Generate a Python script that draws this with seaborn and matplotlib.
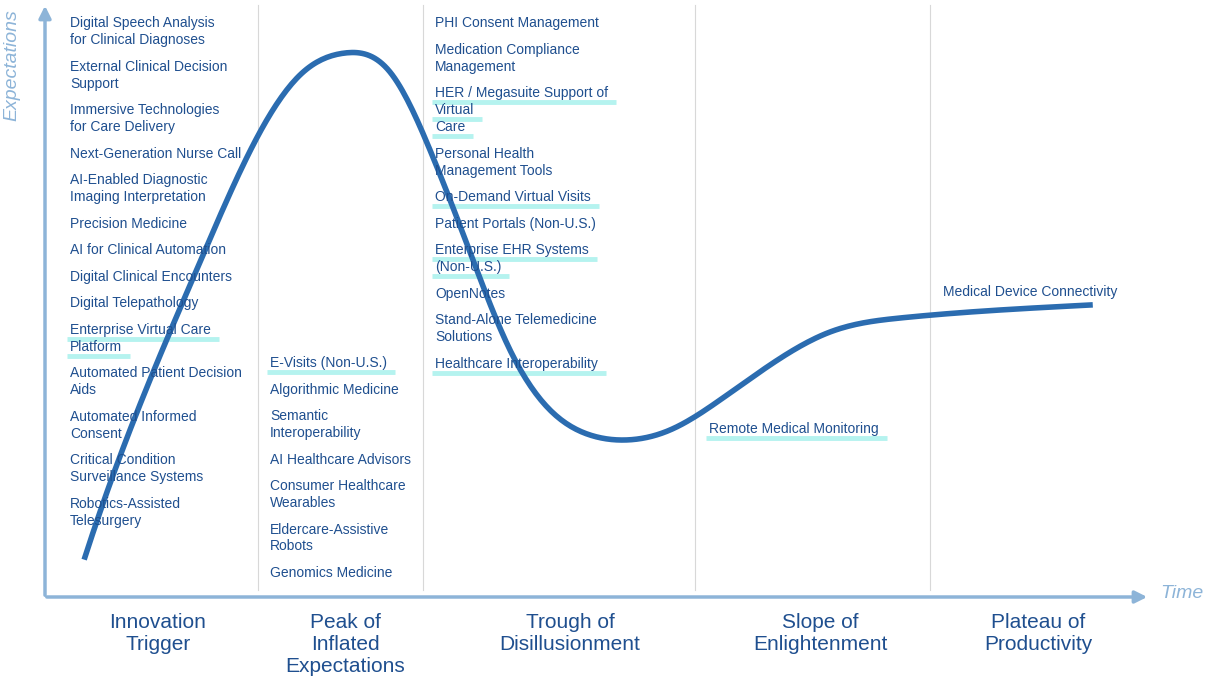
import matplotlib
matplotlib.use("Agg")
import matplotlib.pyplot as plt
import seaborn as sns
import pandas as pd
from scipy.interpolate import make_interp_spline
import numpy as np

# curve samples (pixel space)
curve_x = [85, 130, 200, 260, 300, 345, 390, 430, 470, 510, 550, 590, 625, 670, 720, 770, 830, 900, 1000, 1090]
curve_y = [557, 430, 262, 132, 75, 53, 72, 150, 252, 350, 410, 435, 440, 430, 400, 365, 332, 318, 310, 305]

col1 = [["Digital Speech Analysis", "for Clinical Diagnoses"], ["External Clinical Decision", "Support"],
        ["Immersive Technologies", "for Care Delivery"], ["Next-Generation Nurse Call"],
        ["AI-Enabled Diagnostic", "Imaging Interpretation"], ["Precision Medicine"], ["AI for Clinical Automation"],
        ["Digital Clinical Encounters"], ["Digital Telepathology"], ["Enterprise Virtual Care", "Platform"],
        ["Automated Patient Decision", "Aids"], ["Automated Informed", "Consent"],
        ["Critical Condition", "Surveillance Systems"], ["Robotics-Assisted", "Telesurgery"]]
col2 = [["E-Visits (Non-U.S.)"], ["Algorithmic Medicine"], ["Semantic", "Interoperability"],
        ["AI Healthcare Advisors"], ["Consumer Healthcare", "Wearables"], ["Eldercare-Assistive", "Robots"],
        ["Genomics Medicine"]]
col3 = [["PHI Consent Management"], ["Medication Compliance", "Management"],
        ["HER / Megasuite Support of", "Virtual", "Care"], ["Personal Health", "Management Tools"],
        ["On-Demand Virtual Visits"], ["Patient Portals (Non-U.S.)"], ["Enterprise EHR Systems", "(Non-U.S.)"],
        ["OpenNotes"], ["Stand-Alone Telemedicine", "Solutions"], ["Healthcare Interoperability"]]
highlighted = {"Enterprise Virtual Care", "E-Visits (Non-U.S.)", "HER / Megasuite Support of",
               "On-Demand Virtual Visits", "Enterprise EHR Systems", "Healthcare Interoperability",
               "Remote Medical Monitoring"}
phases = ["Innovation\nTrigger", "Peak of\nInflated\nExpectations", "Trough of\nDisillusionment",
          "Slope of\nEnlightenment", "Plateau of\nProductivity"]

W, H = 1213, 691
fig = plt.figure(figsize=(W / 100, H / 100), dpi=100)
ax = fig.add_axes([0, 0, 1, 1])
ax.set_xlim(0, W); ax.set_ylim(H, 0); ax.axis("off")

txtc = "#1f4f8f"
font = "Liberation Sans"
hl = "#b5f3ef"

for x in [258, 423, 695, 930]:
    ax.plot([x, x], [5, 590], color="#d8d8d8", lw=0.8, zorder=0)

ax.annotate("", xy=(45, 3), xytext=(45, 598),
            arrowprops=dict(arrowstyle="-|>", color="#8db4d8", lw=2.5, mutation_scale=18))
ax.annotate("", xy=(1150, 597), xytext=(44, 597),
            arrowprops=dict(arrowstyle="-|>", color="#8db4d8", lw=2.5, mutation_scale=18))
ax.text(12, 65, "Expectations", rotation=90, ha="center", va="center", fontsize=14,
        style="italic", color="#8db4d8", family=font)
ax.text(1160, 594, "Time", ha="left", va="center", fontsize=14, style="italic", color="#8db4d8", family=font)

xs = np.linspace(curve_x[0], curve_x[-1], 400)
ys = make_interp_spline(curve_x, curve_y, k=3)(xs)
sns.lineplot(data=pd.DataFrame({"x": xs, "y": ys}), x="x", y="y", ax=ax, color="#2b6cb0",
             lw=4, sort=False, estimator=None, zorder=3)

texts = []
def column(items, x, y0):
    y = y0
    for item in items:
        hi = item[0] in highlighted
        for line in item:
            t = ax.text(x, y, line, ha="left", va="top", fontsize=10, color=txtc, family=font, zorder=4)
            if hi:
                texts.append(t)
            y += 17
        y += 9.5

column(col1, 70, 16)
column(col2, 270, 356)
column(col3, 435, 16)
t = ax.text(943, 285, "Medical Device Connectivity", ha="left", va="top", fontsize=10, color=txtc, family=font, zorder=4)
t = ax.text(709, 422, "Remote Medical Monitoring", ha="left", va="top", fontsize=10, color=txtc, family=font, zorder=4)
texts.append(t)
# the follow-on lines of highlighted items
for tt in list(ax.texts):
    pass

phase_x = [158, 345, 570, 820, 1038]
for px, p in zip(phase_x, phases):
    ax.text(px, 613, p, ha="center", va="top", fontsize=15, color=txtc, family=font, linespacing=1.2)

fig.canvas.draw()
r = fig.canvas.get_renderer()
inv = ax.transData.inverted()
# underline highlighted first lines and their continuation lines
all_t = ax.texts
hl_set = set()
for i, tt in enumerate(all_t):
    if tt in texts:
        hl_set.add(i)
groups = {"Enterprise Virtual Care": 1, "HER / Megasuite Support of": 2, "Enterprise EHR Systems": 1}
for i in list(hl_set):
    n = groups.get(all_t[i].get_text(), 0)
    for k in range(1, n + 1):
        hl_set.add(i + k)
for i in hl_set:
    bb = all_t[i].get_window_extent(r)
    (x0, y0), (x1, y1) = inv.transform([(bb.x0, bb.y0), (bb.x1, bb.y1)])
    ax.plot([x0 - 3, x1 + 8], [y0 + 2, y0 + 2], color=hl, lw=3.5, zorder=2, solid_capstyle="butt")

fig.savefig("out.png", dpi=100)
